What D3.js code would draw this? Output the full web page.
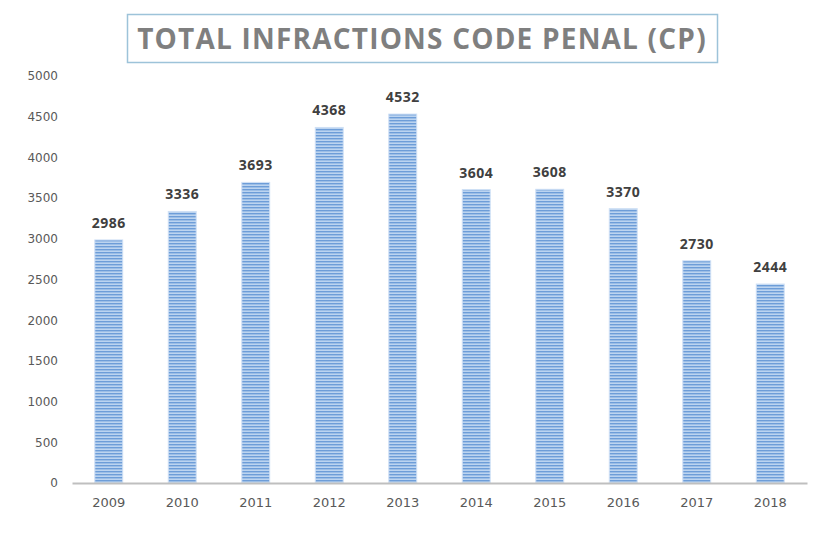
<!DOCTYPE html>
<html lang="en">
<head>
  <meta charset="utf-8">
  <title>Total infractions code penal</title>
  <script src="https://d3js.org/d3.v7.min.js"></script>
  <style type="text/css">
    body { margin: 0; background: #fff; }
  </style>
</head>
<body>
  <script type="text/javascript">

const years = ["2009", "2010", "2011", "2012", "2013", "2014", "2015", "2016", "2017", "2018"];
const totals = [2986, 3336, 3693, 4368, 4532, 3604, 3608, 3370, 2730, 2444];
const yTicks = [0, 500, 1000, 1500, 2000, 2500, 3000, 3500, 4000, 4500, 5000];

const data = years.map((y, i) => ({ year: y, value: totals[i] }));

const svgWidth = 813;
const svgHeight = 542;

const svg = d3.select("body")
    .append("svg")
    .attr("width", svgWidth)
    .attr("height", svgHeight);

// striped fill for the bars
const pattern = svg.append("defs").append("pattern")
    .attr("id", "stripes")
    .attr("patternUnits", "userSpaceOnUse")
    .attr("width", 6)
    .attr("height", 3);
pattern.append("rect")
    .attr("width", 6)
    .attr("height", 3)
    .attr("fill", "#bcd4f0");
pattern.append("rect")
    .attr("y", 0)
    .attr("width", 6)
    .attr("height", 1.4)
    .attr("fill", "#6d9dd8");

const xScale = d3.scaleBand()
    .domain(years)
    .range([72, 807])
    .paddingInner(0.62)
    .paddingOuter(0.31);

const yScale = d3.scaleLinear()
    .domain([0, 5000])
    .range([483, 76]);

// y tick labels (no axis line)
const yAxis = d3.axisLeft(yScale)
    .tickValues(yTicks)
    .tickFormat(d3.format("d"))
    .tickSize(0)
    .tickPadding(0);
svg.append("g")
    .attr("transform", "translate(58, 0)")
    .call(yAxis)
    .call(g => g.select(".domain").remove())
    .selectAll("text")
    .attr("fill", "#595959")
    .style("font-family", "'DejaVu Sans', sans-serif")
    .style("font-size", "12px");

svg.selectAll("rect.bar")
    .data(data)
    .enter()
    .append("rect")
    .attr("class", "bar")
    .attr("x", d => xScale(d.year))
    .attr("y", d => yScale(d.value))
    .attr("width", xScale.bandwidth())
    .attr("height", d => yScale(0) - yScale(d.value))
    .attr("fill", "url(#stripes)")
    .attr("stroke", "#cfe0f5")
    .attr("stroke-width", 1);

// x axis
const xAxis = d3.axisBottom(xScale)
    .tickSize(0)
    .tickPadding(15);
svg.append("g")
    .attr("transform", `translate(0, ${yScale(0)})`)
    .call(xAxis)
    .call(g => g.select(".domain").attr("stroke", "#bfbfbf").attr("stroke-width", 2))
    .selectAll("text")
    .attr("fill", "#595959")
    .style("font-family", "'DejaVu Sans', sans-serif")
    .style("font-size", "13px");

// value labels
svg.selectAll("text.val")
    .data(data)
    .enter()
    .append("text")
    .attr("class", "val")
    .attr("x", d => xScale(d.year) + xScale.bandwidth() / 2)
    .attr("y", d => yScale(d.value) - 12)
    .attr("text-anchor", "middle")
    .attr("fill", "#404040")
    .style("font-family", "'Open Sans', sans-serif")
    .style("font-weight", "bold")
    .style("font-size", "14px")
    .style("letter-spacing", "0.5px")
    .text(d => d.value);

// title box
svg.append("rect")
    .attr("x", 127.5)
    .attr("y", 14.5)
    .attr("width", 590)
    .attr("height", 48)
    .attr("fill", "none")
    .attr("stroke", "#9dc3d9")
    .attr("stroke-width", 1.5);

svg.append("text")
    .attr("x", 422)
    .attr("y", 49)
    .attr("text-anchor", "middle")
    .attr("fill", "#7f7f7f")
    .style("font-family", "'Open Sans', sans-serif")
    .style("font-weight", "bold")
    .style("font-size", "28px")
    .style("letter-spacing", "1.2px")
    .text("TOTAL INFRACTIONS CODE PENAL (CP)");

  </script>
</body>
</html>
